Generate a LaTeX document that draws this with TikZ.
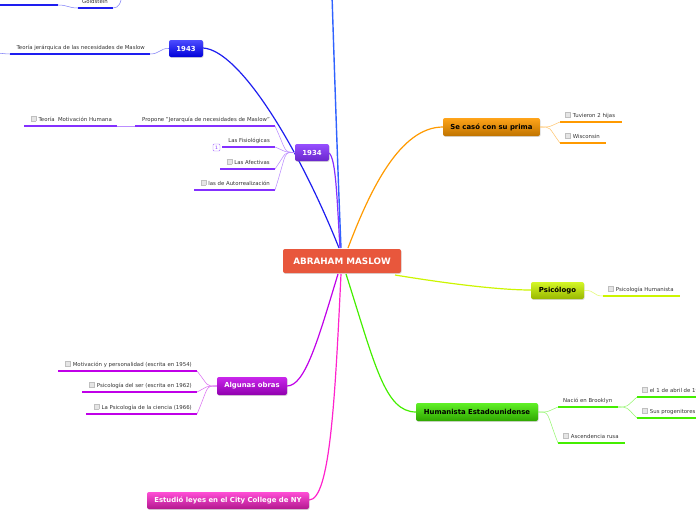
\documentclass[tikz,border=0pt]{standalone}
\usepackage{fontspec}
\setmainfont{DejaVu Sans}
\usetikzlibrary{shadows}
\definecolor{txt}{HTML}{333333}
\definecolor{cblue}{HTML}{1E1EF0}
\definecolor{ctop}{HTML}{2F62FF}
\definecolor{cpurp}{HTML}{8430FF}
\definecolor{corange}{HTML}{FF9A00}
\definecolor{cyellow}{HTML}{CCF500}
\definecolor{cgreen}{HTML}{44EE00}
\definecolor{cviolet}{HTML}{C000E8}
\definecolor{cmag}{HTML}{FF22CC}
\definecolor{cred}{HTML}{E8573C}
\setlength\fboxsep{0pt}
\setlength\fboxrule{0.35pt}
\newcommand\ckb{\raisebox{-0.3pt}{\fcolorbox{black!25}{black!10}{\rule{0pt}{4.8pt}\rule{4.8pt}{0pt}}}\hspace{2.2pt}}
\tikzset{
  lf/.style={inner sep=0pt, text=txt, font=\fontsize{5.4}{6.4}\selectfont},
  ul/.style={line width=2pt, draw=#1},
  br/.style={line width=1.2pt, draw=#1},
  tw/.style={line width=0.55pt, draw=#1!55},
  mainbox/.style={rounded corners=2pt, inner sep=0pt, font=\bfseries\fontsize{6.9}{8}\selectfont,
    drop shadow={shadow xshift=0.6pt, shadow yshift=-0.9pt, opacity=0.3}},
}
\newcommand\leafL[6]{%
  \coordinate (#1-l) at (#2,-#4);
  \coordinate (#1-r) at (#3,-#4);
  \draw[ul=#5] (#1-l) -- (#1-r);
  \node[lf, anchor=base east] (#1) at (#3-5,-#4+5) {#6};}
\newcommand\leafR[6]{%
  \coordinate (#1-l) at (#2,-#4);
  \coordinate (#1-r) at (#3,-#4);
  \draw[ul=#5] (#1-l) -- (#1-r);
  \node[lf, anchor=base west] (#1) at (#2+5,-#4+5) {#6};}
\begin{document}
\begin{tikzpicture}[x=1pt,y=1pt]
\useasboundingbox (0,0) rectangle (696,-520);
\clip (0,0) rectangle (696,-520);

% --- main branches (drawn first, nodes on top)
\coordinate (topend) at (332,5);
\draw[br=ctop, line width=1.4pt] (topend) .. controls (336,-120) and (339,-200) .. (341,-248);
\draw[br=cblue] (203,-48) .. controls (240,-50) and (300,-150) .. (339,-248);
\draw[br=cpurp] (329,-153) .. controls (336,-158) and (337,-200) .. (340,-248);
\draw[br=corange] (348,-248) .. controls (370,-190) and (400,-127) .. (443,-127);
\draw[br=cyellow] (395,-275) .. controls (450,-284) and (500,-290) .. (531,-290);
\draw[br=cgreen] (346,-274) .. controls (375,-365) and (385,-412) .. (416,-412);
\draw[br=cviolet] (338,-274) .. controls (318,-340) and (305,-386) .. (287,-386);
\draw[br=cmag] (341,-274) .. controls (335,-400) and (330,-500) .. (309,-500);

% --- main nodes
\node[mainbox, fill=cred, text=white, minimum width=118pt, minimum height=24pt,
  font=\bfseries\fontsize{8.8}{10}\selectfont] (center) at (342,-261) {ABRAHAM MASLOW};
\node[mainbox, top color=blue!70!white, bottom color=blue!85!black, text=white,
  minimum width=34pt, minimum height=17pt] (y1943) at (186,-48.5) {1943};
\node[mainbox, top color=cpurp!85!white, bottom color=cpurp!80!black, text=white,
  minimum width=34pt, minimum height=17pt] (y1934) at (312,-152.5) {1934};
\node[mainbox, top color=corange!90!white, bottom color=corange!75!black, text=black,
  minimum width=97pt, minimum height=18pt] (casado) at (491.5,-127) {Se casó con su prima};
\node[mainbox, top color=cyellow!85!white, bottom color=cyellow!75!black, text=black,
  minimum width=53pt, minimum height=17pt] (psico) at (557.5,-290.5) {Psicólogo};
\node[mainbox, top color=cgreen!85!white, bottom color=cgreen!70!black, text=black,
  minimum width=122pt, minimum height=18pt] (human) at (477,-412) {Humanista Estadounidense};
\node[mainbox, top color=cviolet!85!white, bottom color=cviolet!75!black, text=white,
  minimum width=70pt, minimum height=18pt] (obras) at (252,-386) {Algunas obras};
\node[mainbox, top color=cmag!80!white, bottom color=cmag!70!black, text=white,
  minimum width=162pt, minimum height=17pt] (leyes) at (228,-500.5) {Estudió leyes en el City College de NY};

% --- top-left remnants
\coordinate (farL-l) at (-5,-5);
\coordinate (farL-r) at (58,-5);
\draw[ul=cblue] (farL-l) -- (farL-r);
\leafL{gold}{78}{113}{8}{cblue}{Goldstein}
\coordinate (goldpar) at (122,6);
\draw[tw=cblue] (gold-r) .. controls (119,-8) and (121,-3) .. (goldpar);
\draw[tw=cblue] (gold-l) .. controls (68,-8) and (68,-5) .. (farL-r);

% --- 1943 branch
\leafL{teoJ}{10}{150}{54}{cblue}{Teoría jerárquica de las necesidades de Maslow}
\draw[tw=cblue] (y1943.west) .. controls (160,-48) and (160,-54) .. (teoJ-r);
\coordinate (teoJnext) at (-5,-53);
\draw[tw=cblue] (teoJ-l) .. controls (4,-54) and (1,-53) .. (teoJnext);

% --- 1934 branch
\leafL{prop}{135}{275}{126}{cpurp}{Propone "Jerarquía de necesidades de Maslow"}
\leafL{teoM}{24}{117}{126}{cpurp}{\ckb Teoría\ \ Motivación Humana}
\leafL{fisio}{222}{275}{147}{cpurp}{Las Fisiológicas}
\leafL{afec}{220}{275}{169}{cpurp}{\ckb Las Afectivas}
\leafL{auto}{194}{275}{190}{cpurp}{\ckb las de Autorrealización}
\draw[tw=cpurp] (teoM-r) -- (prop-l);
\foreach \k in {prop,fisio,afec,auto}
  \draw[tw=cpurp] (y1934.west) .. controls (283,-152) and (287,-152) .. (\k-r);
\node[draw=cpurp!70, rounded corners=1pt, minimum width=7pt, minimum height=7pt, inner sep=0pt,
  text=cpurp, font=\fontsize{4.5}{5}\selectfont] (badge) at (216.5,-147.5) {1};

% --- casado branch
\leafR{tuv}{560}{622}{122}{corange}{\ckb Tuvieron 2 hijas}
\leafR{wis}{560}{606}{143}{corange}{\ckb Wisconsin}
\foreach \k in {tuv,wis}
  \draw[tw=corange] (casado.east) .. controls (552,-127) and (548,-127) .. (\k-l);

% --- psicologo branch
\leafR{phum}{603}{680}{296}{cyellow}{\ckb Psicología Humanista}
\draw[tw=cyellow] (psico.east) .. controls (596,-290) and (592,-296) .. (phum-l);

% --- humanista branch
\leafR{nac}{558}{618}{407}{cgreen}{Nació en Brooklyn}
\leafR{asc}{558}{625}{443}{cgreen}{\ckb Ascendencia rusa}
\foreach \k in {nac,asc}
  \draw[tw=cgreen] (human.east) .. controls (550,-412) and (546,-412) .. (\k-l);
\leafR{abr}{637}{710}{397}{cgreen}{\ckb el 1 de abril de 1908}
\leafR{prog}{637}{710}{418}{cgreen}{\ckb Sus progenitores}
\foreach \k in {abr,prog}
  \draw[tw=cgreen] (nac-r) .. controls (628,-407) and (626,-407) .. (\k-l);

% --- obras branch
\leafL{mot}{58}{197}{371}{cviolet}{\ckb Motivación y personalidad (escrita en 1954)}
\leafL{ser}{82}{197}{392}{cviolet}{\ckb Psicología del ser (escrita en 1962)}
\leafL{cie}{86}{197}{414}{cviolet}{\ckb La Psicología de la ciencia (1966)}
\foreach \k in {mot,ser,cie}
  \draw[tw=cviolet] (obras.west) .. controls (205,-386) and (209,-386) .. (\k-r);
\end{tikzpicture}
\end{document}
